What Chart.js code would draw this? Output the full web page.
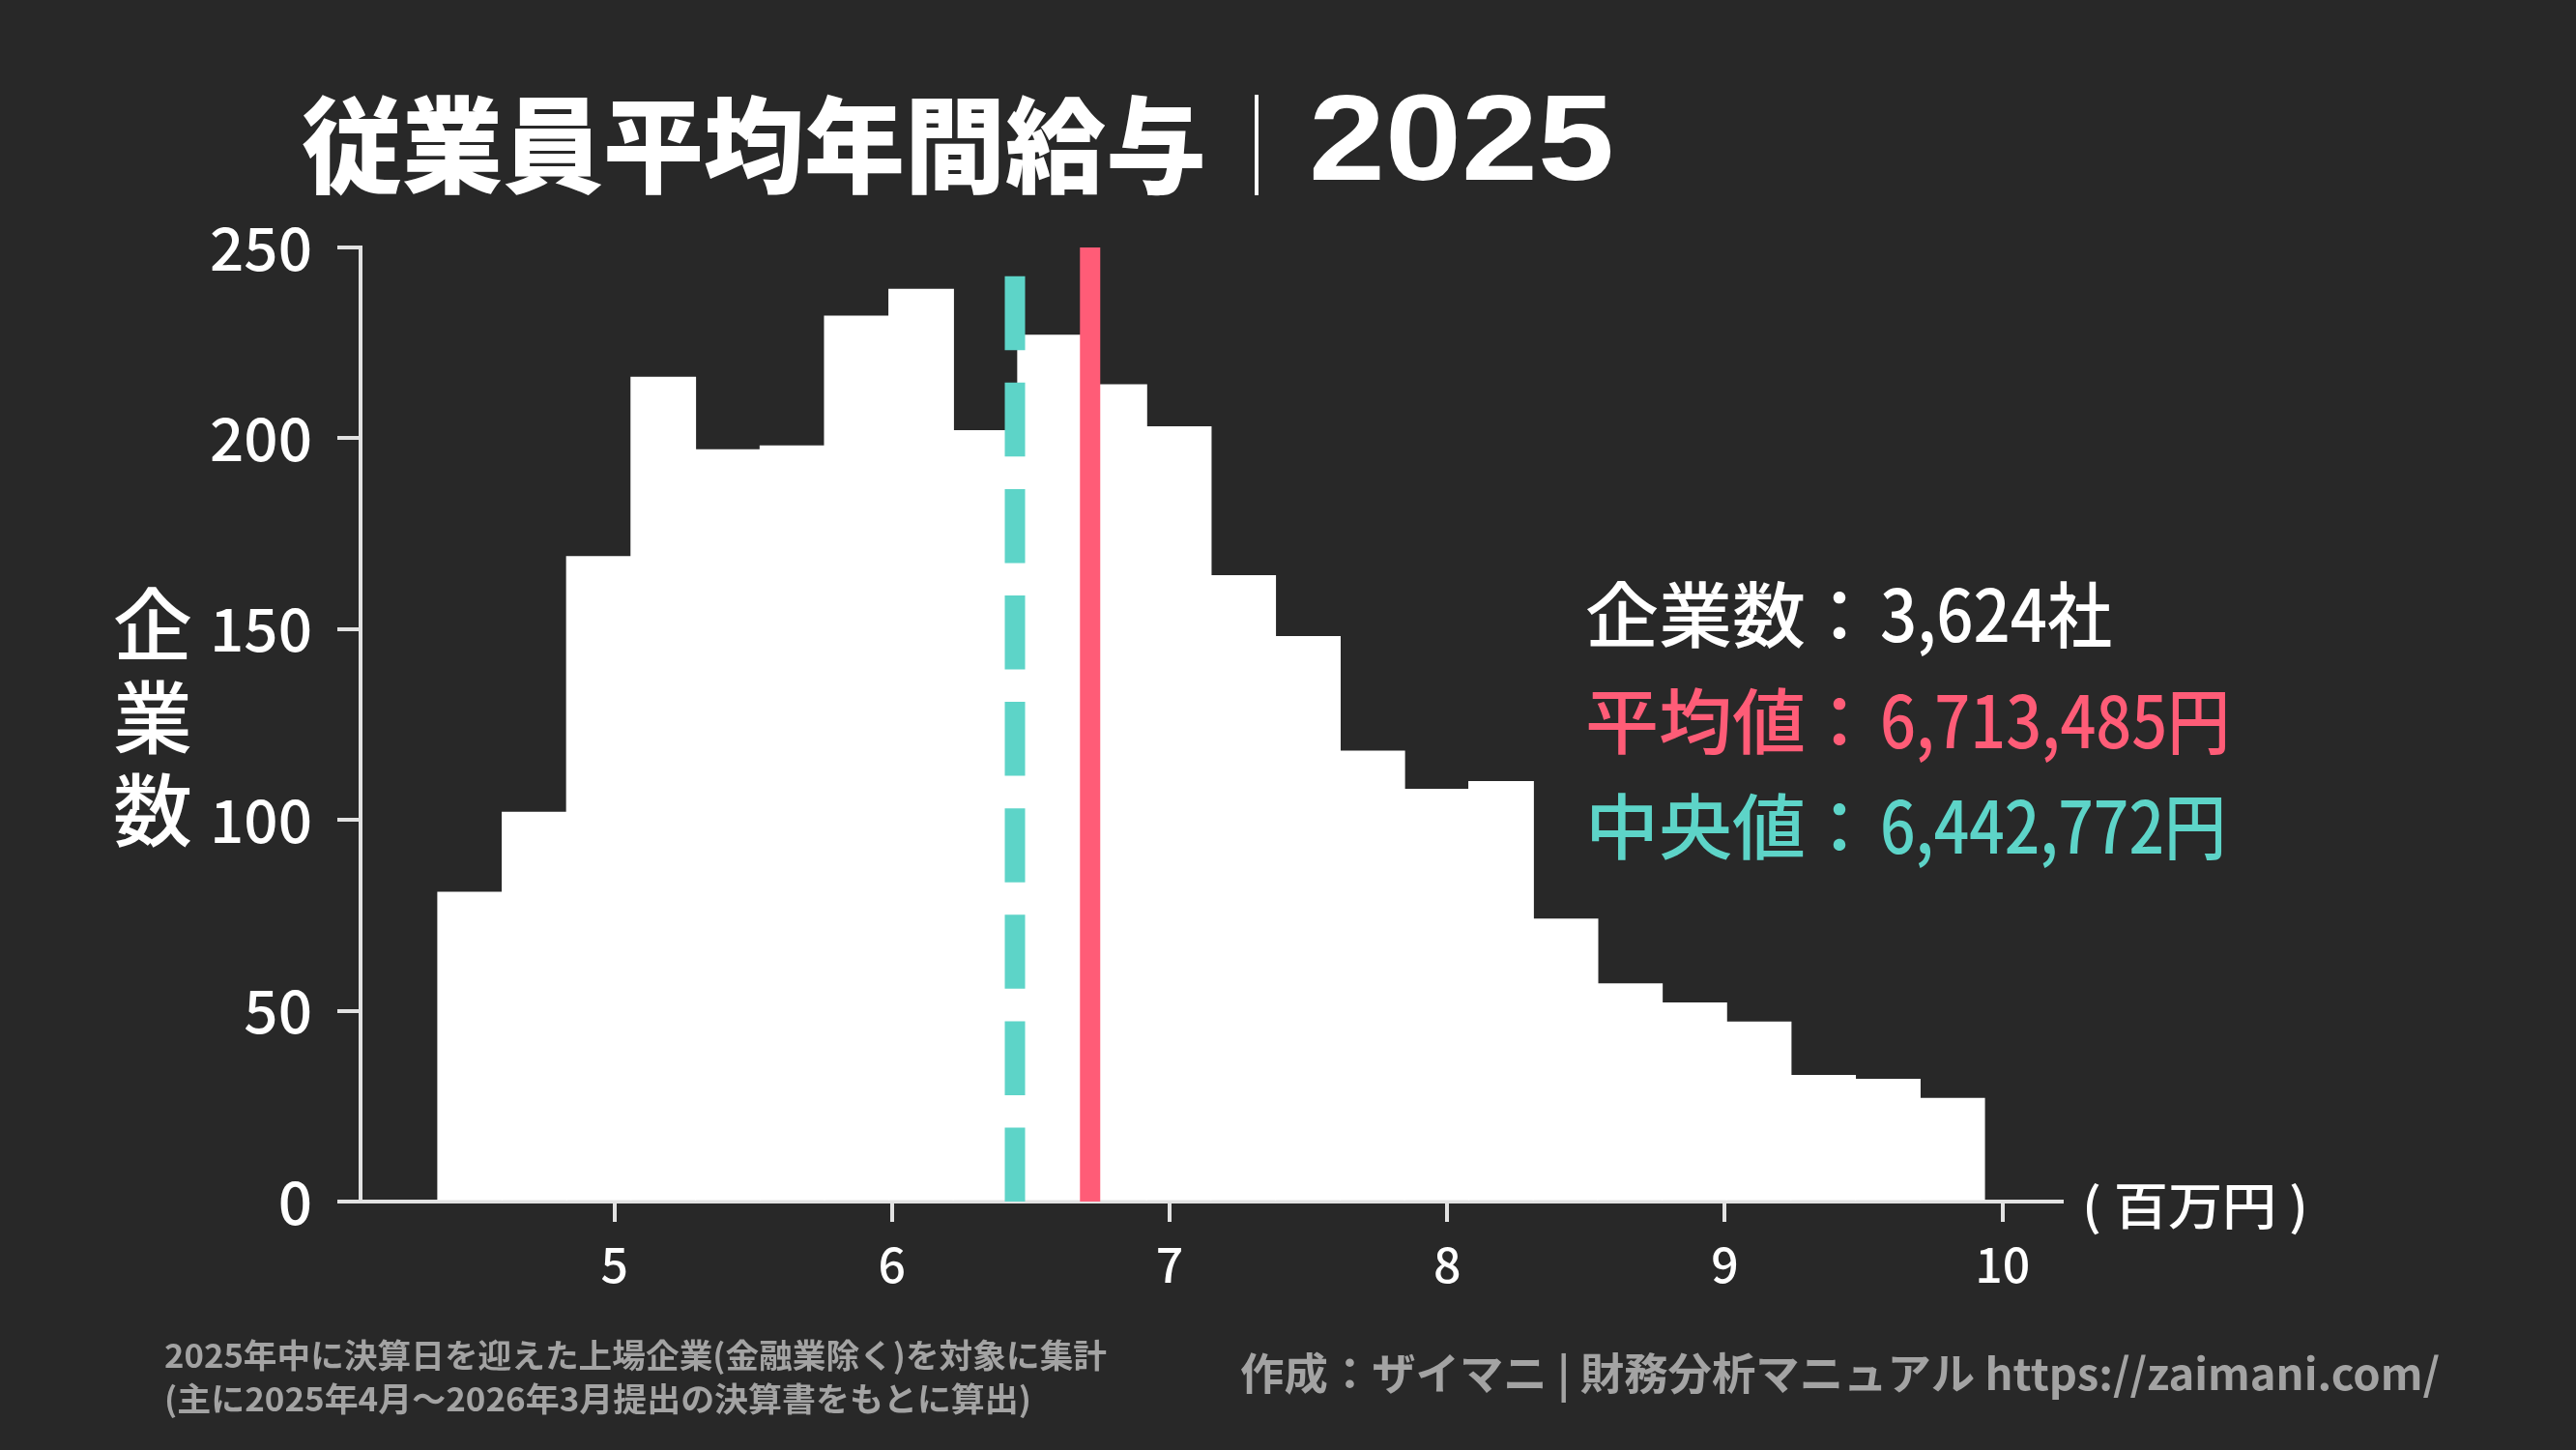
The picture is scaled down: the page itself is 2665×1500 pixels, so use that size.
<!DOCTYPE html>
<html>
<head>
<meta charset="utf-8">
<script src="https://cdn.jsdelivr.net/npm/chart.js@4.4.1/dist/chart.umd.min.js"></script>
<style>
html,body{margin:0;padding:0;background:#282828;overflow:hidden;}
#wrap{width:2665px;height:1500px;position:relative;}
canvas{display:block;}
</style>
</head>
<body>
<div id="wrap"><canvas id="c" width="2665" height="1500"></canvas></div>
<script>
// ---- data ----
const binCenters = [4.480, 4.712, 4.944, 5.176, 5.408, 5.641, 5.873, 6.105, 6.337, 6.569, 6.801, 7.033,
                    7.265, 7.498, 7.730, 7.962, 8.194, 8.426, 8.658, 8.890, 9.122, 9.354, 9.587, 9.819];
const companyCounts = [81, 102, 169, 216, 197, 198, 232, 239, 202, 227, 214, 203,
                       164, 148, 118, 108, 110, 74, 57, 52, 47, 33, 32, 27];
const xTickValues = [5, 6, 7, 8, 9, 10];
const yTickValues = [0, 50, 100, 150, 200, 250];
const statLabels = ['企業数', '平均値', '中央値'];
const statValues = [3624, 6713485, 6442772];
const statUnits = ['社', '円', '円'];
const titleMain = '従業員平均年間給与';
const titleSep = '｜';
const titleYear = '2025';
const yAxisTitle = ['企', '業', '数'];
const xUnitLabel = '( 百万円 )';
const footerLeft = ['2025年中に決算日を迎えた上場企業(金融業除く)を対象に集計',
                    '(主に2025年4月～2026年3月提出の決算書をもとに算出)'];
const footerRight = '作成：ザイマニ | 財務分析マニュアル https://zaimani.com/';

// ---- style ----
const BG = '#282828';
const PINK = '#ff5c77';
const TEAL = '#5dd4c8';
const AXIS = '#e2e2e2';
const GRAY = '#a3a3a3';
const FONT = "'Noto Sans CJK JP', 'Noto Sans', sans-serif";

const meanM = statValues[1] / 1e6;
const medianM = statValues[2] / 1e6;

function fitText(ctx, text, x, y, w, font, color) {
  ctx.save();
  ctx.font = font;
  ctx.fillStyle = color;
  ctx.textAlign = 'left';
  ctx.textBaseline = 'middle';
  const m = ctx.measureText(text).width;
  ctx.translate(x, y);
  ctx.scale(w / m, 1);
  ctx.fillText(text, 0, 0);
  ctx.restore();
}

const bgPlugin = {
  id: 'bg',
  beforeDraw(chart) {
    const ctx = chart.ctx;
    ctx.save();
    ctx.fillStyle = BG;
    ctx.fillRect(0, 0, chart.width, chart.height);
    ctx.restore();
  }
};

const linesPlugin = {
  id: 'statLines',
  afterDatasetsDraw(chart) {
    const ctx = chart.ctx;
    const xs = chart.scales.x, ys = chart.scales.y;
    const y0 = ys.getPixelForValue(ys.min), y1 = ys.getPixelForValue(ys.max);
    ctx.save();
    ctx.lineCap = 'butt';
    ctx.lineWidth = 21;
    // median (dashed)
    ctx.strokeStyle = TEAL;
    ctx.setLineDash([76.5, 33.6]);
    ctx.beginPath();
    const xm = xs.getPixelForValue(medianM);
    ctx.moveTo(xm, y0); ctx.lineTo(xm, y1);
    ctx.stroke();
    // mean (solid)
    ctx.setLineDash([]);
    ctx.strokeStyle = PINK;
    ctx.beginPath();
    const xa = xs.getPixelForValue(meanM);
    ctx.moveTo(xa, y0); ctx.lineTo(xa, y1);
    ctx.stroke();
    ctx.restore();
  }
};

const textPlugin = {
  id: 'texts',
  afterDraw(chart) {
    const ctx = chart.ctx;
    // title
    fitText(ctx, titleMain, 312, 150, 936, `900 108px ${FONT}`, '#ffffff');
    ctx.save();
    ctx.font = `300 104px ${FONT}`;
    ctx.fillStyle = '#ffffff';
    ctx.textAlign = 'center';
    ctx.textBaseline = 'middle';
    ctx.fillText(titleSep, 1300, 150);
    ctx.restore();
    fitText(ctx, titleYear, 1354, 151, 316, `700 126px 'Liberation Sans', Arial, sans-serif`, '#ffffff');
    // y axis title (vertical stacked)
    ctx.save();
    ctx.font = `500 82px ${FONT}`;
    ctx.fillStyle = '#ffffff';
    ctx.textAlign = 'center';
    ctx.textBaseline = 'middle';
    yAxisTitle.forEach((ch, i) => ctx.fillText(ch, 158, 646 + i * 96));
    ctx.restore();
    // x unit label
    fitText(ctx, xUnitLabel, 2154, 1247, 234, `500 52px ${FONT}`, '#ffffff');
    // stats
    const fmt = v => v.toLocaleString('en-US');
    const colors = ['#ffffff', PINK, TEAL];
    const valueWidths = [240, 362, 358];
    const ys = [636, 746, 855];
    const sfont = `500 74px ${FONT}`;
    statLabels.forEach((lab, i) => {
      fitText(ctx, lab, 1640, ys[i], 228, sfont, colors[i]);
      ctx.save();
      ctx.font = sfont;
      ctx.fillStyle = colors[i];
      ctx.textAlign = 'center';
      ctx.textBaseline = 'middle';
      ctx.fillText('：', 1903, ys[i]);
      ctx.restore();
      fitText(ctx, fmt(statValues[i]) + statUnits[i], 1945, ys[i], valueWidths[i], sfont, colors[i]);
    });
    // footers
    fitText(ctx, footerLeft[0], 170, 1402, 975, `700 34px ${FONT}`, GRAY);
    fitText(ctx, footerLeft[1], 170, 1447, 897, `700 34px ${FONT}`, GRAY);
    fitText(ctx, footerRight, 1283, 1421, 1241, `700 45px ${FONT}`, GRAY);
  }
};

const ctx = document.getElementById('c').getContext('2d');
new Chart(ctx, {
  type: 'bar',
  data: {
    datasets: [{
      data: binCenters.map((x, i) => ({ x: x, y: companyCounts[i] })),
      backgroundColor: '#ffffff',
      borderWidth: 0,
      barPercentage: 1,
      categoryPercentage: 1,
      inflateAmount: 0.6
    }]
  },
  options: {
    responsive: false,
    devicePixelRatio: 1,
    animation: false,
    layout: { padding: { top: 256, right: 532, left: 0, bottom: 0 } },
    plugins: { legend: { display: false }, tooltip: { enabled: false }, title: { display: false } },
    scales: {
      x: {
        type: 'linear',
        offset: false,
        min: 4.0855,
        max: 10.2136,
        afterBuildTicks: s => { s.ticks = xTickValues.map(v => ({ value: v })); },
        afterFit: s => { s.height = 257; },
        grid: { display: true, offset: false, drawOnChartArea: false, drawTicks: true, tickLength: 21, color: AXIS, lineWidth: 4 },
        border: { display: true, color: AXIS, width: 4 },
        ticks: { color: '#ffffff', padding: 14, maxRotation: 0, autoSkip: false,
                 font: { family: FONT, size: 50, weight: '500' } }
      },
      y: {
        type: 'linear',
        min: 0,
        max: 250,
        afterBuildTicks: s => { s.ticks = yTickValues.map(v => ({ value: v })); },
        afterFit: s => { s.width = 373; },
        grid: { display: true, drawOnChartArea: false, drawTicks: true, tickLength: 24, color: AXIS, lineWidth: 4 },
        border: { display: true, color: AXIS, width: 4 },
        ticks: { color: '#ffffff', padding: 26,
                 font: { family: FONT, size: 62, weight: '500' } }
      }
    }
  },
  plugins: [bgPlugin, linesPlugin, textPlugin]
});
</script>
</body>
</html>
